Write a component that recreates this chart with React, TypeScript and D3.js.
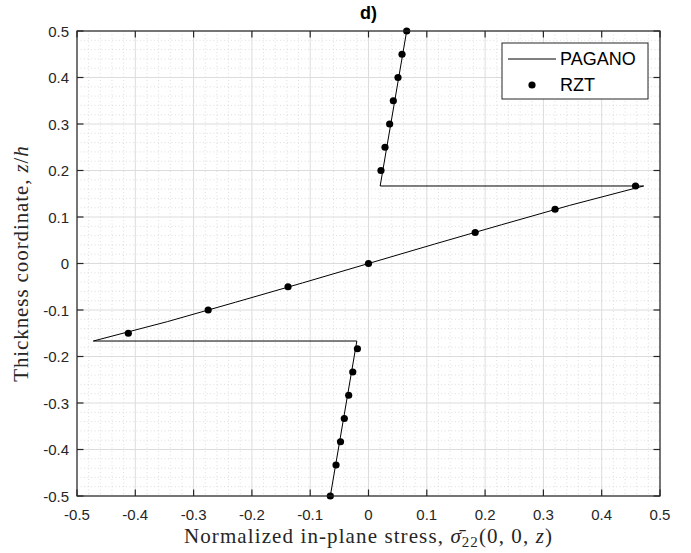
import React from "react";
import * as d3 from "d3";

// PAGANO (exact solution) polyline: x = stress, z = thickness coordinate
const paganoX = [-0.0655, -0.020, -0.472, -0.345, -0.228, -0.113, 0, 0.113, 0.228, 0.345, 0.472, 0.020, 0.0655];
const paganoZ = [-0.5, -0.1667, -0.1667, -0.125, -0.0833, -0.0417, 0, 0.0417, 0.0833, 0.125, 0.1667, 0.1667, 0.5];

// RZT points
const rztX = [
  0.0655, 0.0575, 0.0506, 0.0426, 0.0363, 0.0283, 0.0214,
  0.458, 0.320, 0.183, 0, -0.138, -0.275, -0.412,
  -0.019, -0.027, -0.034, -0.0415, -0.048, -0.0557, -0.0655,
];
const rztZ = [
  0.5, 0.45, 0.40, 0.35, 0.30, 0.25, 0.20,
  0.1667, 0.1167, 0.0667, 0, -0.05, -0.1, -0.15,
  -0.1833, -0.2333, -0.2833, -0.3333, -0.3833, -0.4333, -0.5,
];

const xTicks = [-0.5, -0.4, -0.3, -0.2, -0.1, 0, 0.1, 0.2, 0.3, 0.4, 0.5];
const yTicks = [-0.5, -0.4, -0.3, -0.2, -0.1, 0, 0.1, 0.2, 0.3, 0.4, 0.5];
const legendLabels = ["PAGANO", "RZT"];
const title = "d)";

const W = 691, H = 553;
const L = 77, R = 660, T = 31, B = 496;
const axisColor = "#262626";

export default function App() {
  const x = d3.scaleLinear().domain([-0.5, 0.5]).range([L, R]);
  const y = d3.scaleLinear().domain([-0.5, 0.5]).range([B, T]);
  const minor = d3.range(-0.5, 0.5001, 0.02).filter((v) => Math.abs(Math.round(v * 10) - v * 10) > 1e-6);
  const line = d3
    .line<number>()
    .x((i) => x(paganoX[i]))
    .y((i) => y(paganoZ[i]));
  const idx = paganoX.map((_, i) => i);
  const fmt = (v: number) => (Math.abs(v) < 1e-9 ? "0" : String(+v.toFixed(1)));
  const tickLen = 6.5;
  const tickFont = "'Liberation Sans', Arial, Helvetica, sans-serif";
  const serif = "'Liberation Serif', 'Times New Roman', serif";

  return (
    <svg width={W} height={H} style={{ position: "absolute", left: 0, top: 0, background: "#fff" }}>
      <rect x={0} y={0} width={W} height={H} fill="#fff" />
      {/* minor grid */}
      <g stroke="#c8c8c8" strokeWidth={0.6} strokeDasharray="1,2.5">
        {minor.map((v, i) => (
          <line key={"mx" + i} x1={x(v)} x2={x(v)} y1={T} y2={B} />
        ))}
        {minor.map((v, i) => (
          <line key={"my" + i} x1={L} x2={R} y1={y(v)} y2={y(v)} />
        ))}
      </g>
      {/* major grid */}
      <g stroke="#dcdcdc" strokeWidth={1}>
        {xTicks.map((v, i) => (
          <line key={"gx" + i} x1={x(v)} x2={x(v)} y1={T} y2={B} />
        ))}
        {yTicks.map((v, i) => (
          <line key={"gy" + i} x1={L} x2={R} y1={y(v)} y2={y(v)} />
        ))}
      </g>
      {/* data */}
      <path d={line(idx) || ""} fill="none" stroke="#000" strokeWidth={1} />
      {rztX.map((v, i) => (
        <circle key={"p" + i} cx={x(v)} cy={y(rztZ[i])} r={3.6} fill="#000" />
      ))}
      {/* axes box and ticks */}
      <rect x={L} y={T} width={R - L} height={B - T} fill="none" stroke={axisColor} strokeWidth={1.2} />
      <g stroke={axisColor} strokeWidth={1.2}>
        {xTicks.map((v, i) => (
          <g key={"tx" + i}>
            <line x1={x(v)} x2={x(v)} y1={B} y2={B - tickLen} />
            <line x1={x(v)} x2={x(v)} y1={T} y2={T + tickLen} />
          </g>
        ))}
        {yTicks.map((v, i) => (
          <g key={"ty" + i}>
            <line x1={L} x2={L + tickLen} y1={y(v)} y2={y(v)} />
            <line x1={R} x2={R - tickLen} y1={y(v)} y2={y(v)} />
          </g>
        ))}
      </g>
      <g fill={axisColor} fontFamily={tickFont} fontSize={15}>
        {xTicks.map((v, i) => (
          <text key={"lx" + i} x={x(v)} y={520} textAnchor="middle">
            {fmt(v)}
          </text>
        ))}
        {yTicks.map((v, i) => (
          <text key={"ly" + i} x={69} y={y(v)} textAnchor="end" dominantBaseline="central">
            {fmt(v)}
          </text>
        ))}
      </g>
      {/* title */}
      <text x={(L + R) / 2} y={19} textAnchor="middle" fontFamily={tickFont} fontWeight="bold" fontSize={18} fill="#000">
        {title}
      </text>
      {/* axis labels */}
      <text x={(L + R) / 2} y={543} textAnchor="middle" fontFamily={serif} fontSize={21} letterSpacing={1.1} fill={axisColor}>
        <tspan>Normalized in-plane stress, </tspan>
        <tspan fontStyle="italic" letterSpacing={0}>{"σ\u0304"}</tspan>
        <tspan fontSize={15} dy={4} dx={1}>22</tspan>
        <tspan dy={-4}>(0, 0, </tspan>
        <tspan fontStyle="italic">z</tspan>
        <tspan>)</tspan>
      </text>
      <text
        transform={`translate(28, ${(T + B) / 2}) rotate(-90)`}
        textAnchor="middle"
        fontFamily={serif}
        fontSize={21}
        letterSpacing={0.9}
        fill={axisColor}
      >
        <tspan>Thickness coordinate, </tspan>
        <tspan fontStyle="italic">z</tspan>
        <tspan>/</tspan>
        <tspan fontStyle="italic">h</tspan>
      </text>
      {/* legend */}
      <rect x={502} y={43} width={146} height={56} fill="#fff" stroke={axisColor} strokeWidth={1} />
      <line x1={508} x2={556} y1={59} y2={59} stroke="#000" strokeWidth={1} />
      <circle cx={532} cy={85} r={3.6} fill="#000" />
      <g fontFamily={tickFont} fontSize={18} fill="#000">
        <text x={560} y={59} dominantBaseline="central">{legendLabels[0]}</text>
        <text x={560} y={85} dominantBaseline="central">{legendLabels[1]}</text>
      </g>
    </svg>
  );
}
